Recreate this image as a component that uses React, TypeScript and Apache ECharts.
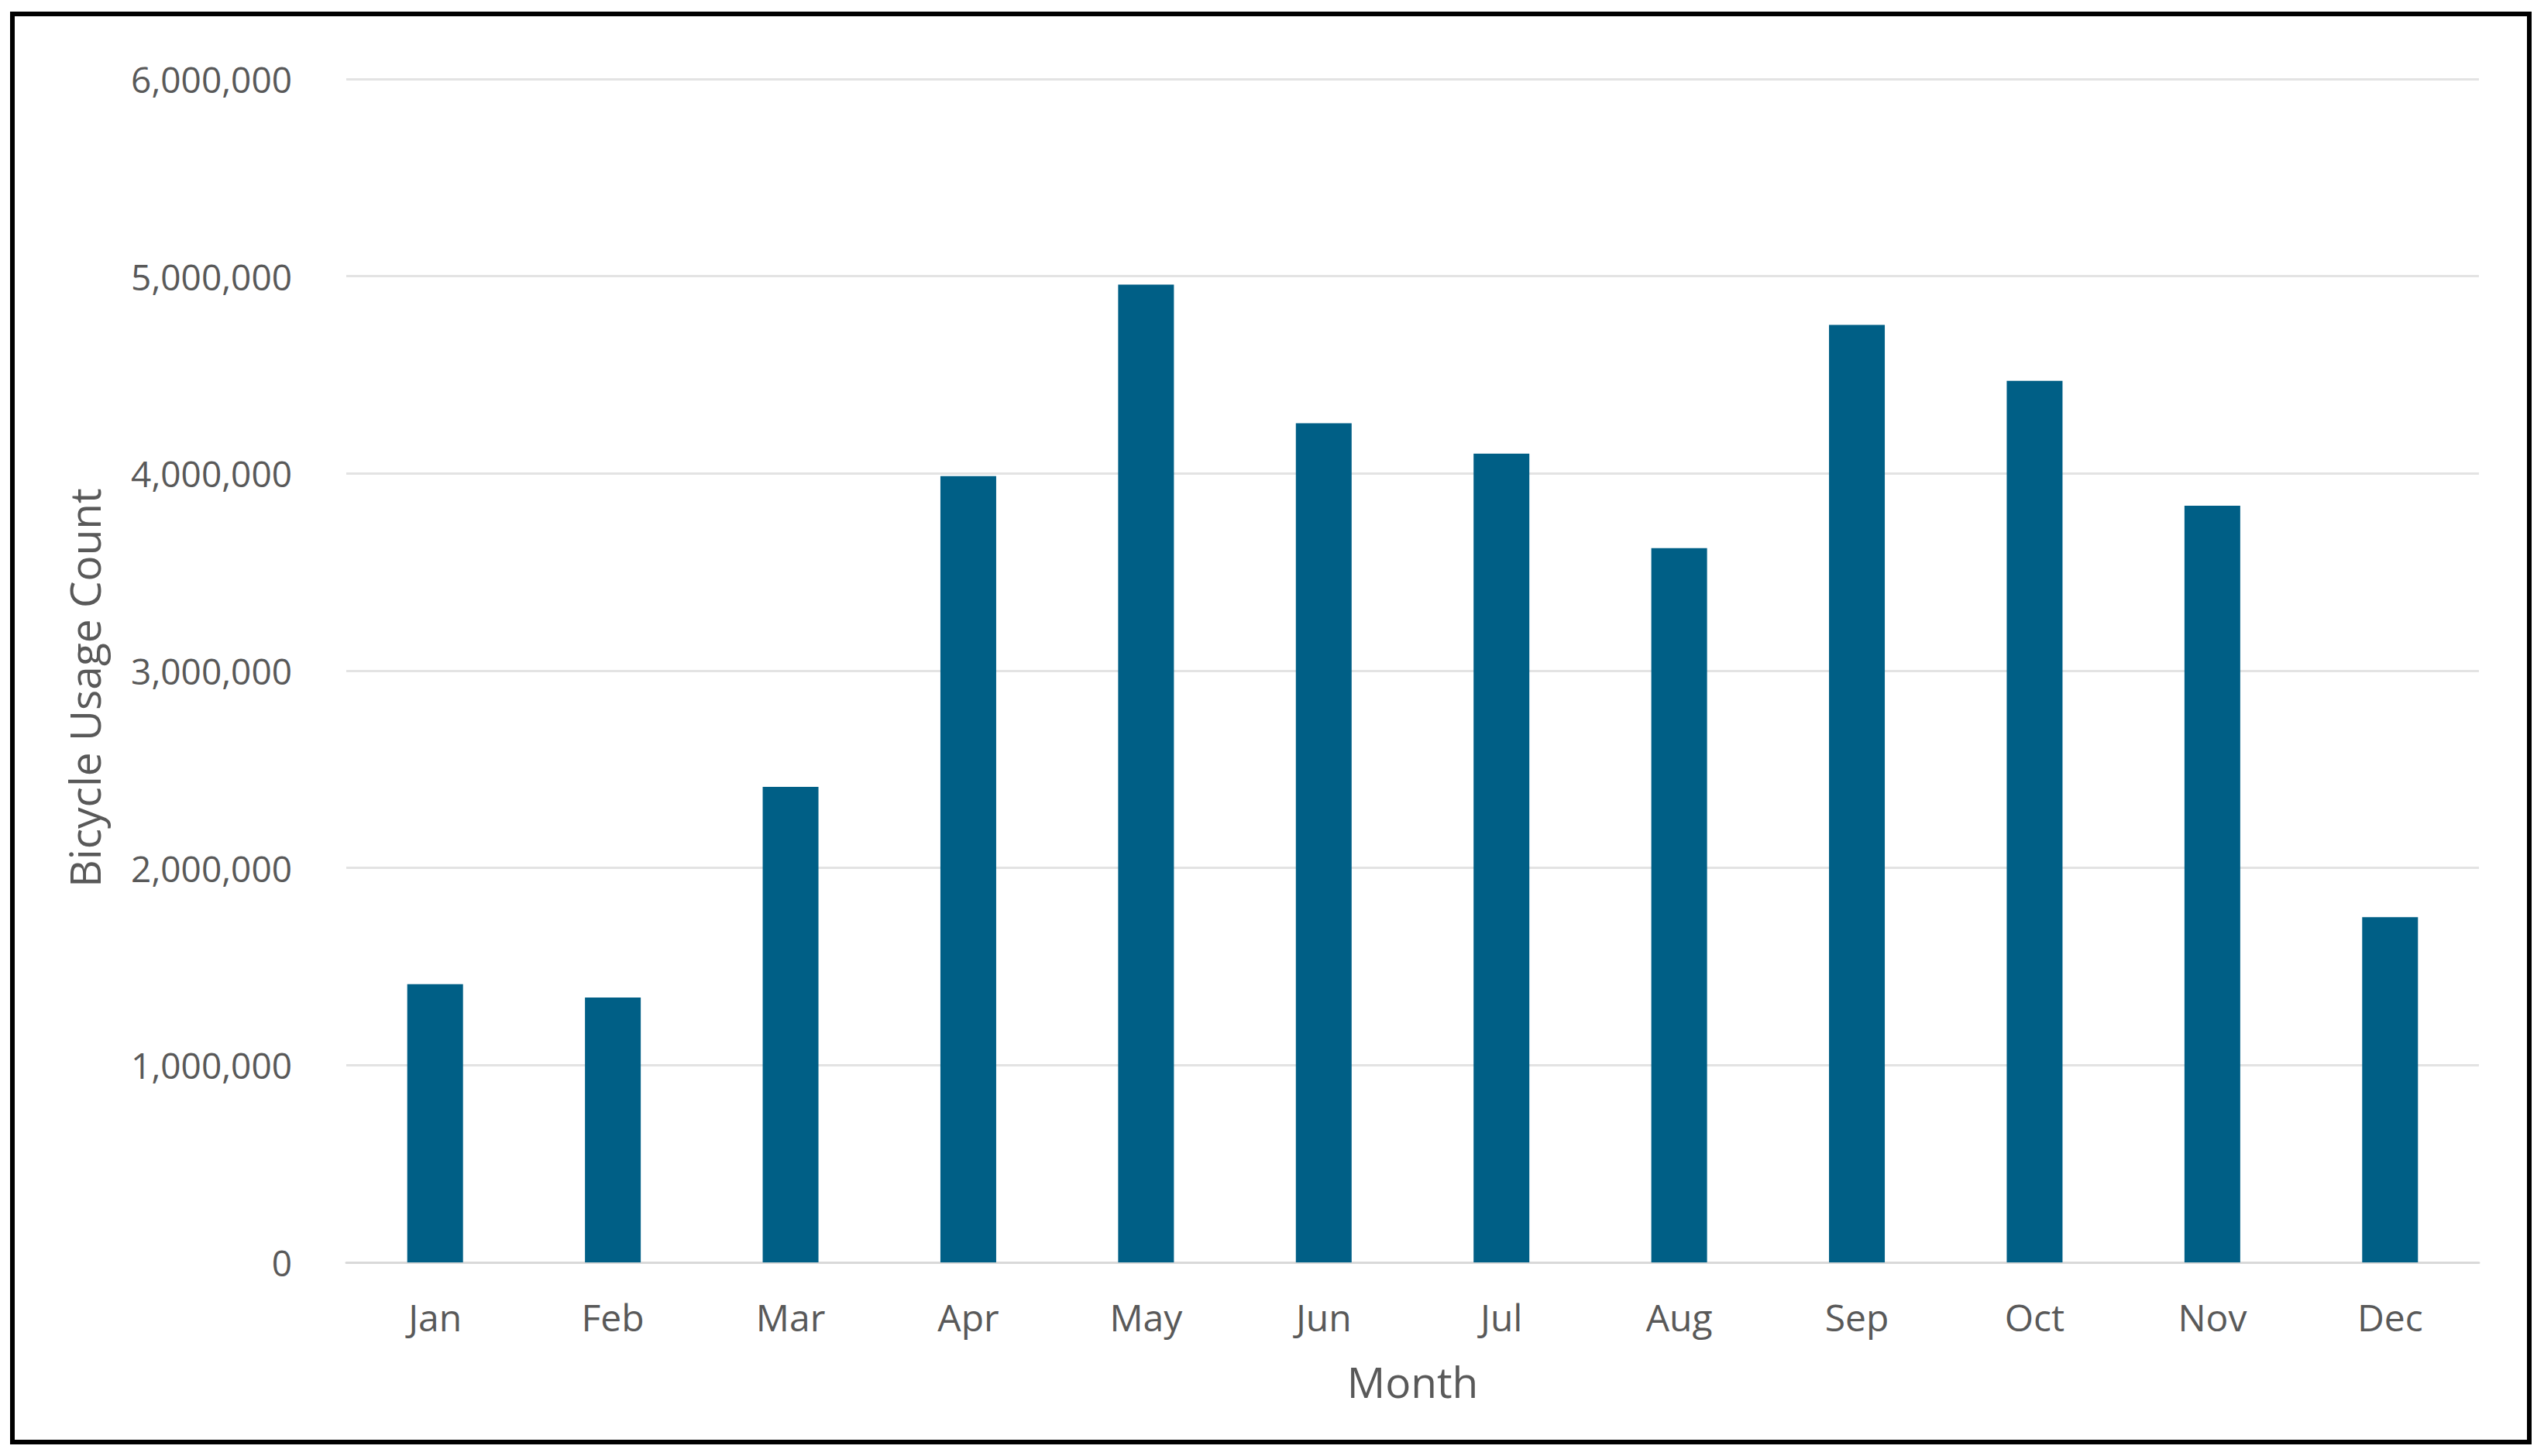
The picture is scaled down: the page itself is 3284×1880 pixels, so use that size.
import React, { useEffect, useRef } from "react";
import * as echarts from "echarts";

const months = ["Jan", "Feb", "Mar", "Apr", "May", "Jun", "Jul", "Aug", "Sep", "Oct", "Nov", "Dec"];
const usageCounts = [1411000, 1343000, 2411000, 3987000, 4957000, 4255000, 4100000, 3621000, 4753000, 4470000, 3836000, 1750000];
const yMin = 0;
const yMax = 6000000;
const yInterval = 1000000;
const xAxisTitle = "Month";
const yAxisTitle = "Bicycle Usage Count";

const FONT = "'Open Sans', 'Noto Sans', sans-serif";
const TEXT_COLOR = "#595959";

export default function App() {
  const ref = useRef<HTMLDivElement>(null);
  useEffect(() => {
    if (!ref.current) return;
    const chart = echarts.init(ref.current, undefined, { renderer: "svg" });
    chart.setOption({
      animation: false,
      backgroundColor: "#ffffff",
      grid: { left: 447, right: 84, top: 102, bottom: 250, containLabel: false },
      xAxis: {
        type: "category",
        data: months,
        name: xAxisTitle,
        nameLocation: "middle",
        nameGap: 126,
        nameTextStyle: { fontFamily: FONT, fontSize: 55, color: TEXT_COLOR },
        axisLine: { show: true, lineStyle: { color: "#d9d9d9", width: 3 } },
        axisTick: { show: false },
        axisLabel: { fontFamily: FONT, fontSize: 48, color: TEXT_COLOR, margin: 46 },
      },
      yAxis: {
        type: "value",
        min: yMin,
        max: yMax,
        interval: yInterval,
        axisLine: { show: false },
        axisTick: { show: false },
        splitLine: { lineStyle: { color: "#e3e3e3", width: 3 } },
        axisLabel: {
          fontFamily: FONT,
          fontSize: 46,
          color: TEXT_COLOR,
          margin: 70,
          formatter: (v: number) => v.toLocaleString("en-US"),
        },
      },
      series: [
        {
          type: "bar",
          data: usageCounts,
          barWidth: 72,
          itemStyle: { color: "#005f86" },
        },
      ],
      graphic: [
        {
          type: "text",
          x: 108,
          y: 888,
          rotation: Math.PI / 2,
          style: {
            text: yAxisTitle,
            fontFamily: FONT,
            fontSize: 55,
            fill: TEXT_COLOR,
            align: "center",
            verticalAlign: "middle",
          },
        },
        {
          type: "rect",
          shape: { x: 16, y: 18, width: 3249, height: 1844 },
          style: { fill: "none", stroke: "#000000", lineWidth: 6 },
          z: 100,
        },
      ],
    });
    return () => chart.dispose();
  }, []);
  return (
    <div
      ref={ref}
      style={{ position: "absolute", left: 0, top: 0, width: 3284, height: 1880 }}
    />
  );
}
